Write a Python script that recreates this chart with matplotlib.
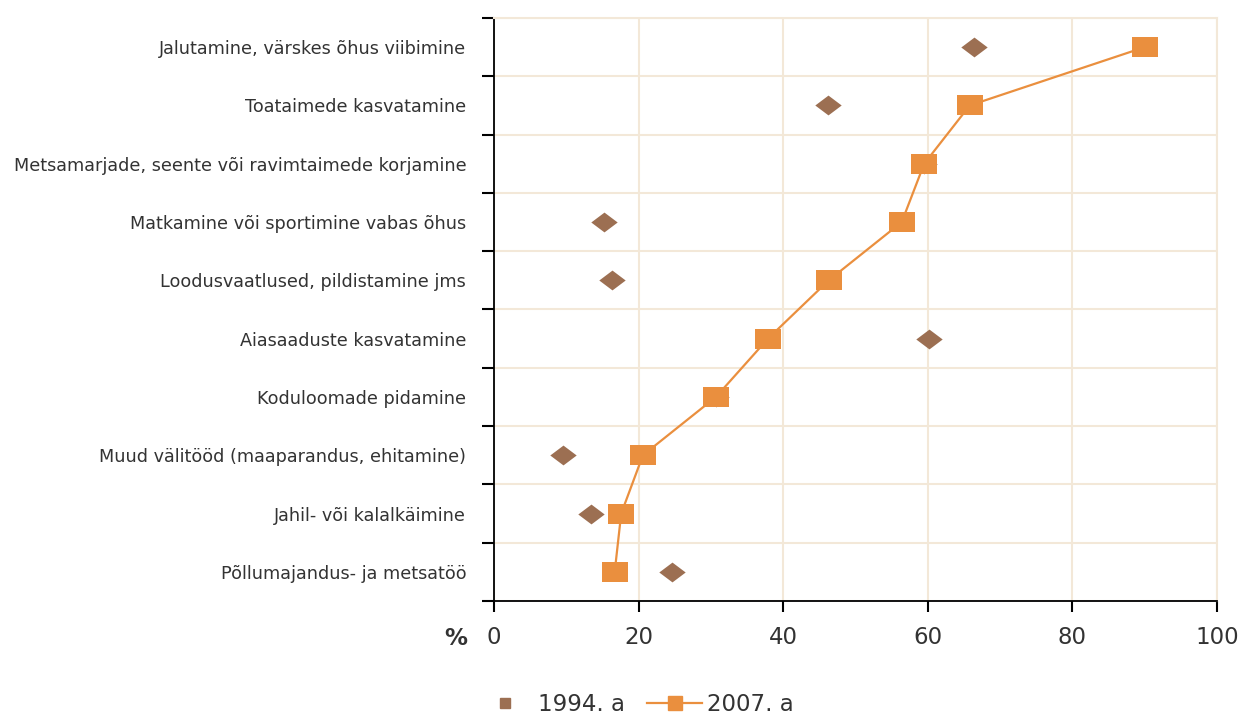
import numpy as np
import matplotlib.pyplot as plt
from matplotlib.lines import Line2D

# Andmed (ülevalt alla)
tegevused = [
    'Jalutamine, värskes õhus viibimine',
    'Toataimede kasvatamine',
    'Metsamarjade, seente või ravimtaimede korjamine',
    'Matkamine või sportimine vabas õhus',
    'Loodusvaatlused, pildistamine jms',
    'Aiasaaduste kasvatamine',
    'Koduloomade pidamine',
    'Muud välitööd (maaparandus, ehitamine)',
    'Jahil- või kalalkäimine',
    'Põllumajandus- ja metsatöö',
]
aasta_1994 = [66.4, 46.2, 59.5, 15.2, 16.3, 60.2, 30.7, 9.5, 13.4, 24.6]
aasta_2007 = [90.0, 65.8, 59.5, 56.4, 46.3, 37.9, 30.7, 20.6, 17.6, 16.7]
x_ticks = [0, 20, 40, 60, 80, 100]

pruun = '#9C6F52'
oranz = '#EA8F3E'
vorgustik = '#F3E8D8'
tekst = '#333333'

n = len(tegevused)
y = n - 0.5 - np.arange(n)

ruut = [(-1.3, -1), (1.3, -1), (1.3, 1), (-1.3, 1), (-1.3, -1)]
romb = [(-1.33, 0), (0, -1), (1.33, 0), (0, 1), (-1.33, 0)]

fig = plt.figure(figsize=(12.42, 7.17), dpi=100)
ax = fig.add_axes([0.3977, 0.1618, 0.9799 - 0.3977, 0.9749 - 0.1618])

ax.plot(aasta_1994, y, linestyle='none', marker=romb, markersize=19,
        color=pruun, markeredgewidth=0, zorder=3)
ax.plot(aasta_2007, y, color=oranz, linewidth=1.6, marker=ruut, markersize=19,
        markeredgewidth=0, zorder=4)

ax.set_xlim(0, 100)
ax.set_ylim(0, n)
ax.set_xticks(x_ticks)
ax.set_xticklabels([str(v) for v in x_ticks], fontsize=16.5, color=tekst)
ax.set_yticks(np.arange(n + 1))
ax.set_yticklabels([])
ax.set_yticks(y, minor=True)
ax.set_yticklabels(tegevused, minor=True, fontsize=12.7, color=tekst)

ax.tick_params(axis='x', direction='out', length=8, width=1.5, pad=10, color='black')
ax.tick_params(axis='y', which='major', direction='out', length=9, width=1.5, color='black')
ax.tick_params(axis='y', which='minor', length=0, pad=20)

ax.grid(True, which='major', color=vorgustik, linewidth=1.5, zorder=0)
ax.set_axisbelow(True)
for s in ['top', 'right']:
    ax.spines[s].set_color(vorgustik)
    ax.spines[s].set_linewidth(1.5)
for s in ['left', 'bottom']:
    ax.spines[s].set_color('black')
    ax.spines[s].set_linewidth(1.3)

fig.text(0.376, 0.110, '%', fontsize=16.5, fontweight='bold', color=tekst,
         ha='right', va='center')

kasitsejad = [
    Line2D([], [], linestyle='none', marker='s', markersize=7, color=pruun),
    Line2D([], [], color=oranz, linewidth=1.6, marker='s', markersize=10),
]
fig.legend(kasitsejad, ['1994. a', '2007. a'], loc='lower center',
           bbox_to_anchor=(0.512, -0.027), ncol=2, frameon=False, fontsize=16.5,
           handlelength=2.4, columnspacing=1.0, handletextpad=0.2,
           labelcolor=tekst)

fig.savefig('out.png', dpi=100)
